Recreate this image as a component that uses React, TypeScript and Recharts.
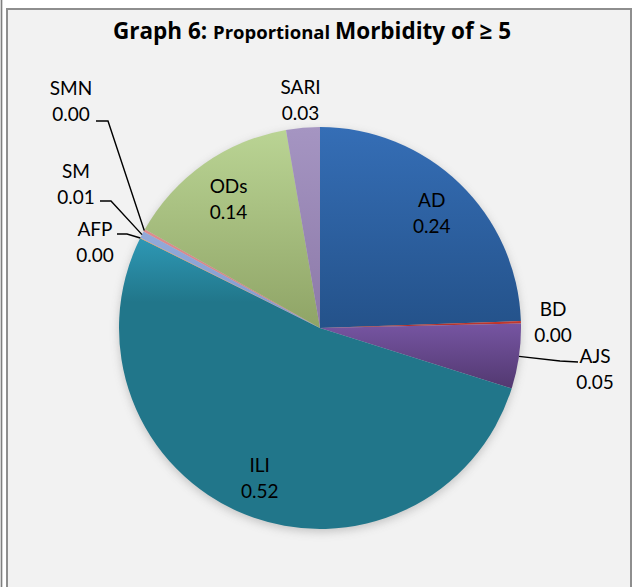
import React from 'react';
import { PieChart, Pie, Cell } from 'recharts';

const diseases = ['AD', 'BD', 'AJS', 'ILI', 'AFP', 'SM', 'SMN', 'ODs', 'SARI'];
const proportions = [0.244, 0.002, 0.052, 0.524, 0.0005, 0.0055, 0.002, 0.141, 0.027];

const data = diseases.map((name, i) => ({ name, value: proportions[i] }));

// light (top) and dark (bottom) shade of each slice
const shades: string[][] = [
  ['#356EB6', '#24528A'],
  ['#C63A30', '#A82C27'],
  ['#7655A2', '#523870'],
  ['#2E98B5', '#21768A'],
  ['#F79646', '#E8833A'],
  ['#93AADA', '#8299CC'],
  ['#DE8C8E', '#D07C7E'],
  ['#BAD494', '#8FA466'],
  ['#A595C2', '#8C79A8'],
];

type Place =
  | { kind: 'radial'; r: number }
  | { kind: 'leader'; text: number[]; elbow: number[]; end: number[] };

// where each label sits, offsets are from the pie centre
const places: Record<string, Place> = {
  AD: { kind: 'radial', r: 0.8 },
  BD: { kind: 'radial', r: 1.16 },
  AJS: { kind: 'leader', text: [275, 40], elbow: [240, 33], end: [258, 34] },
  ILI: { kind: 'radial', r: 0.8 },
  AFP: { kind: 'leader', text: [-225, -87], elbow: [-193, -94], end: [-203, -94] },
  SM: { kind: 'leader', text: [-244, -145], elbow: [-209, -127], end: [-220, -127] },
  SMN: { kind: 'leader', text: [-249, -228], elbow: [-212, -207], end: [-224, -207] },
  ODs: { kind: 'radial', r: 0.79 },
  SARI: { kind: 'radial', r: 1.14 },
};

const RAD = Math.PI / 180;
const FONT = 'Lato, "Open Sans", sans-serif';

function renderLabel(props: any) {
  const { cx, cy, midAngle, outerRadius, index } = props;
  const name = props.name ?? props.payload?.name;
  const value = props.value ?? props.payload?.value;
  const place = places[name];
  let tx = 0;
  let ty = 0;
  let line = null;
  if (place.kind === 'radial') {
    const r = outerRadius * place.r;
    tx = cx + r * Math.cos(-midAngle * RAD);
    ty = cy + r * Math.sin(-midAngle * RAD);
  } else {
    tx = cx + place.text[0];
    ty = cy + place.text[1];
    const ex = cx + outerRadius * Math.cos(-midAngle * RAD);
    const ey = cy + outerRadius * Math.sin(-midAngle * RAD);
    line = (
      <polyline
        points={`${ex},${ey} ${cx + place.elbow[0]},${cy + place.elbow[1]} ${cx + place.end[0]},${cy + place.end[1]}`}
        fill="none"
        stroke="#000"
        strokeWidth={1.4}
      />
    );
  }
  return (
    <g key={`label-${index}`}>
      {line}
      <text x={tx} y={ty - 13} textAnchor="middle" dominantBaseline="central" fontFamily={FONT} fontSize={19} fill="#000">
        {name}
      </text>
      <text x={tx} y={ty + 13} textAnchor="middle" dominantBaseline="central" fontFamily={FONT} fontSize={19} fill="#000">
        {Number(value).toFixed(2)}
      </text>
    </g>
  );
}

export default function App() {
  return (
    <div style={{ position: 'relative', width: 636, height: 587, background: '#fff', overflow: 'hidden' }}>
      <style>{`body{margin:0} .pie-shadow{filter:blur(3px);opacity:0.55}`}</style>
      <div style={{ position: 'absolute', left: 0, top: 0, width: 3, height: 587, background: '#d4d4d4' }} />
      <div style={{ position: 'absolute', left: 1, top: 0, width: 1, height: 587, background: '#7f7f7f' }} />
      <div
        style={{
          position: 'absolute',
          left: 6,
          top: 8,
          width: 626,
          height: 620,
          boxSizing: 'border-box',
          border: '2px solid #8e8e8e',
          background: '#f2f2f2',
        }}
      />
      <svg width={0} height={0} style={{ position: 'absolute' }}>
        <defs>
          {shades.map((s, i) => (
            <linearGradient key={`g-${i}`} id={`slice-${i}`} x1="0" y1="0" x2="0" y2="1">
              <stop offset="0%" stopColor={s[0]} />
              <stop offset={i === 3 ? '22%' : '100%'} stopColor={s[1]} />
              <stop offset="100%" stopColor={s[1]} />
            </linearGradient>
          ))}
        </defs>
      </svg>
      <div style={{ position: 'absolute', left: 0, top: 0 }}>
        <PieChart width={636} height={587} margin={{ top: 0, right: 0, bottom: 0, left: 0 }}>
          <Pie
            className="pie-shadow"
            data={data}
            dataKey="value"
            nameKey="name"
            cx={320}
            cy={331}
            outerRadius={201}
            startAngle={90}
            endAngle={-270}
            fill="#5a5a5a"
            stroke="none"
            label={false}
            labelLine={false}
            isAnimationActive={false}
          />
          <Pie
            data={data}
            dataKey="value"
            nameKey="name"
            cx={320}
            cy={328}
            outerRadius={201}
            startAngle={90}
            endAngle={-270}
            stroke="none"
            label={renderLabel}
            labelLine={false}
            isAnimationActive={false}
          >
            {data.map((d, i) => (
              <Cell key={`cell-${d.name}`} fill={`url(#slice-${i})`} />
            ))}
          </Pie>
        </PieChart>
      </div>
      <svg width={636} height={60} style={{ position: 'absolute', left: 0, top: 0 }}>
        <text x={312} y={39} textAnchor="middle" fontFamily='"Open Sans", Lato, sans-serif' fontWeight={700} fill="#000">
          <tspan fontSize={22.5}>Graph 6: </tspan>
          <tspan fontSize={18.5}>Proportional </tspan>
          <tspan fontSize={22.5}>Morbidity of ≥ 5</tspan>
        </text>
      </svg>
    </div>
  );
}
